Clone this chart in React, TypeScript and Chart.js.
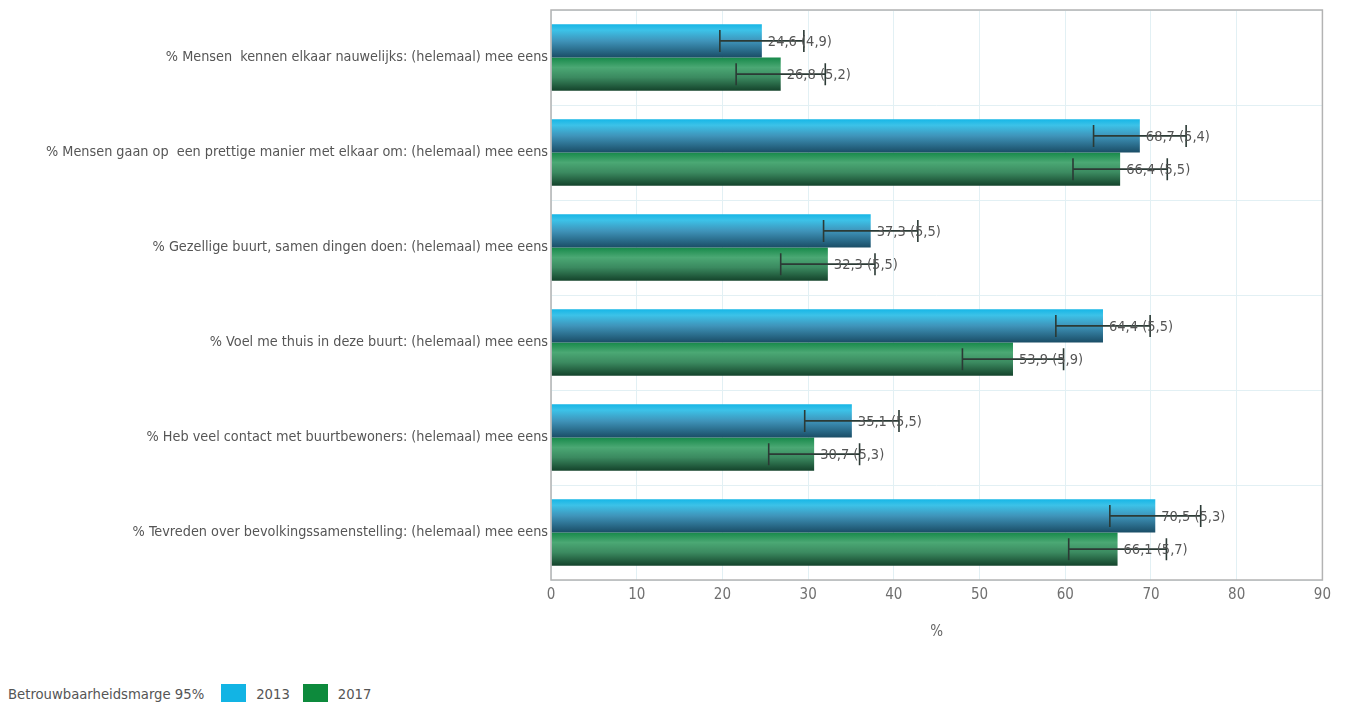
import React, { useEffect, useRef } from "react";
import { Chart, registerables } from "chart.js";

Chart.register(...registerables);

const categories = [
  "% Mensen  kennen elkaar nauwelijks: (helemaal) mee eens",
  "% Mensen gaan op  een prettige manier met elkaar om: (helemaal) mee eens",
  "% Gezellige buurt, samen dingen doen: (helemaal) mee eens",
  "% Voel me thuis in deze buurt: (helemaal) mee eens",
  "% Heb veel contact met buurtbewoners: (helemaal) mee eens",
  "% Tevreden over bevolkingssamenstelling: (helemaal) mee eens",
];
const seriesNames = ["2013", "2017"];
const values2013 = [24.6, 68.7, 37.3, 64.4, 35.1, 70.5];
const margins2013 = [4.9, 5.4, 5.5, 5.5, 5.5, 5.3];
const values2017 = [26.8, 66.4, 32.3, 53.9, 30.7, 66.1];
const margins2017 = [5.2, 5.5, 5.5, 5.9, 5.3, 5.7];
const xMin = 0;
const xMax = 90;
const xStep = 10;
const axisTitle = "%";
const legendTitle = "Betrouwbaarheidsmarge 95%";

const FONT = '"Liberation Sans Narrow", "DejaVu Sans Condensed", Arial, sans-serif';
const TEXT = "#555555";
const GRID = "#e2f0f4";

const blueStops: [number, string][] = [
  [0, "#16b6e6"],
  [0.18, "#3cc2e8"],
  [0.5, "#3f94ba"],
  [1, "#1a4d66"],
];
const greenStops: [number, string][] = [
  [0, "#17894a"],
  [0.3, "#4ba874"],
  [0.6, "#3b8a60"],
  [1, "#14432b"],
];
const legendColors = ["#12b4e4", "#0d8a3c"];

const fmt = (v: number) => v.toFixed(1).replace(".", ",");

function gradientFor(stops: [number, string][]) {
  return (ctx: any) => {
    const chart = ctx.chart;
    const y = chart.scales && chart.scales.y;
    if (!y || !chart.chartArea || ctx.type !== "data") return stops[0][1];
    const center = y.getPixelForValue(ctx.dataIndex);
    const band = Math.abs(y.getPixelForValue(1) - y.getPixelForValue(0));
    const total = band * 0.7;
    const bar = total / 2;
    const top = center - total / 2 + ctx.datasetIndex * bar;
    const g = chart.ctx.createLinearGradient(0, top, 0, top + bar);
    stops.forEach(([o, c]) => g.addColorStop(o, c));
    return g;
  };
}

const overlayPlugin = {
  id: "overlay",
  afterDatasetsDraw(chart: any) {
    const { ctx, chartArea } = chart;
    const x = chart.scales.x;
    ctx.save();
    ctx.strokeStyle = "#b3b3b3";
    ctx.lineWidth = 1.5;
    ctx.strokeRect(chartArea.left, chartArea.top, chartArea.right - chartArea.left, chartArea.bottom - chartArea.top);
    ctx.restore();
    const allMargins = [margins2013, margins2017];
    chart.data.datasets.forEach((ds: any, di: number) => {
      const meta = chart.getDatasetMeta(di);
      meta.data.forEach((el: any, i: number) => {
        const v = ds.data[i];
        const m = allMargins[di][i];
        const x1 = x.getPixelForValue(v - m);
        const x2 = x.getPixelForValue(v + m);
        const yy = el.y;
        const cap = 11;
        ctx.save();
        ctx.strokeStyle = "#2b3a35";
        ctx.lineWidth = 1.6;
        ctx.beginPath();
        ctx.moveTo(x1, yy);
        ctx.lineTo(x2, yy);
        ctx.moveTo(x1, yy - cap);
        ctx.lineTo(x1, yy + cap);
        ctx.moveTo(x2, yy - cap);
        ctx.lineTo(x2, yy + cap);
        ctx.stroke();
        ctx.restore();
      });
    });
    chart.data.datasets.forEach((ds: any, di: number) => {
      const meta = chart.getDatasetMeta(di);
      meta.data.forEach((el: any, i: number) => {
        const v = ds.data[i];
        const m = allMargins[di][i];
        ctx.save();
        ctx.fillStyle = TEXT;
        ctx.font = "14.5px " + FONT;
        ctx.textAlign = "left";
        ctx.textBaseline = "middle";
        ctx.fillText(`${fmt(v)} (${fmt(m)})`, el.x + 6, el.y + 1);
        ctx.restore();
      });
    });
  },
};

export default function App() {
  const ref = useRef<HTMLCanvasElement | null>(null);
  useEffect(() => {
    if (!ref.current) return;
    const chart = new Chart(ref.current, {
      type: "bar",
      data: {
        labels: categories,
        datasets: [
          {
            label: seriesNames[0],
            data: values2013,
            backgroundColor: gradientFor(blueStops),
            categoryPercentage: 0.7,
            barPercentage: 1,
          },
          {
            label: seriesNames[1],
            data: values2017,
            backgroundColor: gradientFor(greenStops),
            categoryPercentage: 0.7,
            barPercentage: 1,
          },
        ],
      },
      options: {
        indexAxis: "y",
        animation: false,
        responsive: false,
        maintainAspectRatio: false,
        layout: { padding: { top: 2, right: 14, left: 0, bottom: 0 } },
        plugins: { legend: { display: false }, tooltip: { enabled: false } },
        scales: {
          x: {
            min: xMin,
            max: xMax,
            ticks: { stepSize: xStep, color: "#707070", font: { family: FONT, size: 15 }, padding: 6 },
            grid: { color: GRID, drawTicks: false, lineWidth: 1 },
            border: { display: false },
            title: { display: true, text: axisTitle, color: "#666", font: { family: FONT, size: 15 }, padding: { top: 0, bottom: 27 } },
            afterFit: (s: any) => {
              s.height = 88;
            },
          },
          y: {
            ticks: { color: TEXT, font: { family: FONT, size: 14.3 }, padding: 3 },
            grid: { color: GRID, drawTicks: false, offset: true },
            border: { display: false },
            afterFit: (s: any) => {
              s.width = 543;
              s.paddingTop = 0;
              s.paddingBottom = 0;
            },
          },
        },
      },
      plugins: [overlayPlugin],
    });
    return () => chart.destroy();
  }, []);

  return (
    <div style={{ fontFamily: FONT }}>
      <div style={{ width: 1329, height: 660 }}>
        <canvas ref={ref} width={1329} height={660} style={{ display: "block" }} />
      </div>
      <div style={{ display: "flex", alignItems: "center", marginTop: 16, fontSize: 14.7, color: TEXT, height: 18 }}>
        <span>{legendTitle}</span>
        <span style={{ display: "inline-block", width: 25, height: 18, background: legendColors[0], marginLeft: 17 }} />
        <span style={{ marginLeft: 10 }}>{seriesNames[0]}</span>
        <span style={{ display: "inline-block", width: 25, height: 18, background: legendColors[1], marginLeft: 13 }} />
        <span style={{ marginLeft: 10 }}>{seriesNames[1]}</span>
      </div>
    </div>
  );
}
